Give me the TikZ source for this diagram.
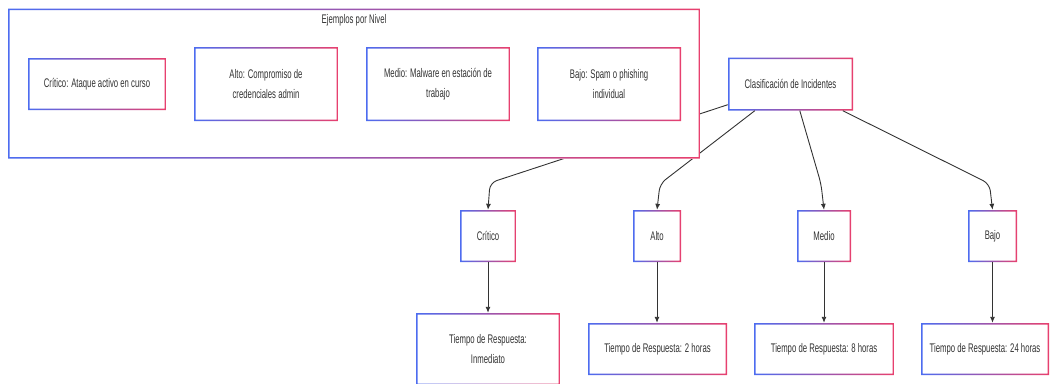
\documentclass[tikz,border=0pt]{standalone}
\usepackage{fontspec}
\setmainfont{Liberation Sans}[FakeStretch=0.62]
\usetikzlibrary{arrows.meta}
\definecolor{cblue}{RGB}{77,108,240}
\definecolor{cred}{RGB}{232,64,110}
\definecolor{txt}{RGB}{51,51,51}
\tikzset{
  box/.style={rectangle, fill=white, align=center, text=txt, inner sep=0pt,
    font=\fontsize{12.5}{20}\selectfont,
    path picture={\shade[left color=cblue, right color=cred, even odd rule]
      (path picture bounding box.south west) rectangle (path picture bounding box.north east)
      ([shift={(1.5pt,1.5pt)}]path picture bounding box.south west)
      rectangle ([shift={(-1.5pt,-1.5pt)}]path picture bounding box.north east);}},
  link/.style={draw=txt, line width=0.9pt, rounded corners=7pt,
    -{Latex[length=6pt,width=5pt]}},
}
\begin{document}
\begin{tikzpicture}[x=1pt,y=-1pt]
\useasboundingbox (0,0) rectangle (1051,383);
\node[box, minimum width=125pt, minimum height=53pt] (cls) at (790.5,84) {Clasificación de Incidentes};
% niveles
\node[box, minimum width=56pt, minimum height=52pt] (critico) at (488,236) {Crítico};
\node[box, minimum width=48pt, minimum height=52pt] (alto) at (657,236) {Alto};
\node[box, minimum width=54pt, minimum height=52pt] (medio) at (824,236) {Medio};
\node[box, minimum width=49pt, minimum height=52pt] (bajo) at (992.5,236) {Bajo};
% tiempos
\node[box, minimum width=144pt, minimum height=72pt] (resp1) at (488,349) {Tiempo de Respuesta:\\Inmediato};
\node[box, minimum width=139pt, minimum height=52pt] (resp2) at (657.5,349) {Tiempo de Respuesta: 2 horas};
\node[box, minimum width=140pt, minimum height=52pt] (resp3) at (824,349) {Tiempo de Respuesta: 8 horas};
\node[box, minimum width=128pt, minimum height=52pt] (resp4) at (985,349) {Tiempo de Respuesta: 24 horas};

\draw[link] ([yshift=6pt]cls.south west) -- ([shift={(2,-27)}]critico.north) -- (critico.north);
\draw[link] ([xshift=27pt]cls.south west) -- ([shift={(3,-26)}]alto.north) -- (alto.north);
\draw[link] ([xshift=72pt]cls.south west) -- ([shift={(-3,-26)}]medio.north) -- (medio.north);
\draw[link] ([xshift=115pt]cls.south west) -- ([shift={(-3,-26)}]bajo.north) -- (bajo.north);
\draw[link] (critico) -- (resp1);
\draw[link] (alto.south) -- (alto.south |- resp2.north);
\draw[link] (medio) -- (resp3);
\draw[link] (bajo.south) -- (bajo.south |- resp4.north);

% grupo de ejemplos
\node[box, minimum width=692pt, minimum height=150pt] (grupo) at (354,83.5) {};
\node[text=txt, font=\fontsize{12.5}{20}\selectfont] (titulo) at (354,20) {Ejemplos por Nivel};
\node[box, minimum width=138pt, minimum height=52pt] (ej1) at (97,84) {Crítico: Ataque activo en curso};
\node[box, minimum width=144pt, minimum height=74pt] (ej2) at (266,84) {Alto: Compromiso de\\credenciales admin};
\node[box, minimum width=144pt, minimum height=74pt] (ej3) at (438,84) {Medio: Malware en estación de\\trabajo};
\node[box, minimum width=144pt, minimum height=74pt] (ej4) at (609,84) {Bajo: Spam o phishing\\individual};
\end{tikzpicture}
\end{document}
